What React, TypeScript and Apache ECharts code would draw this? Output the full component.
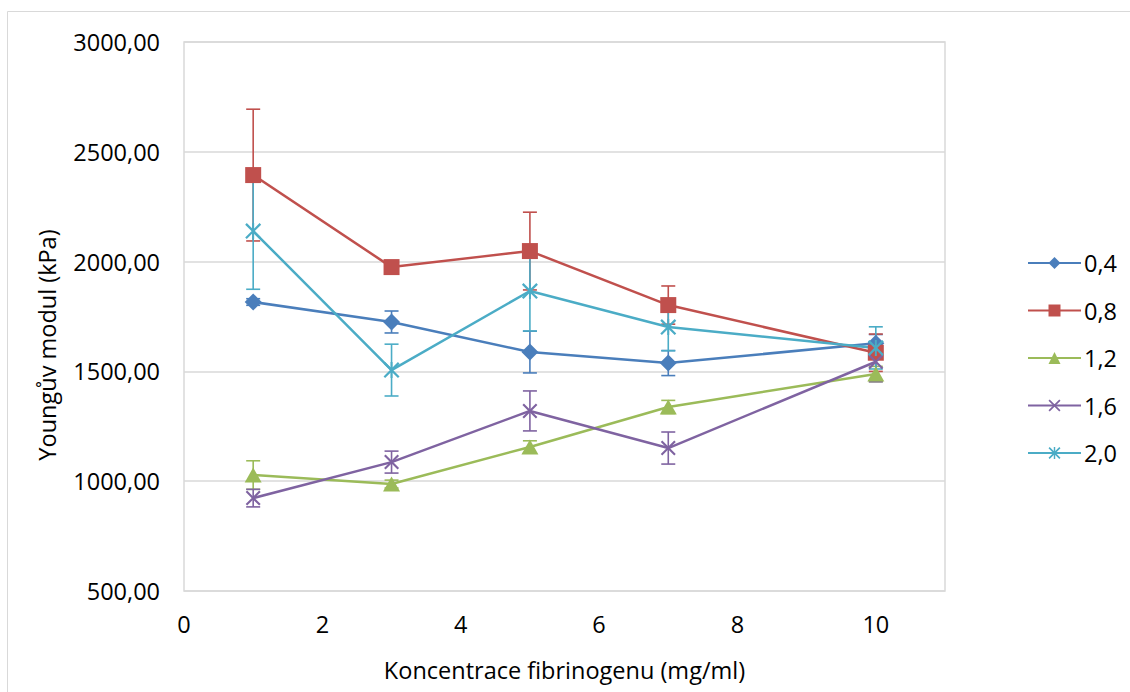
import React, { useEffect, useRef } from "react";
import * as echarts from "echarts";

const xValues = [1, 3, 5, 7, 10];
const seriesNames = ["0,4", "0,8", "1,2", "1,6", "2,0"];
const s04 = [1816, 1725, 1588, 1538, 1628];
const s08 = [2394, 1975, 2048, 1802, 1585];
const s12 = [1028, 987, 1156, 1338, 1488];
const s16 = [923, 1087, 1320, 1151, 1544];
const s20 = [2139, 1506, 1866, 1702, 1607];
const e04 = [15, 50, 95, 57, 40];
const e08 = [300, 25, 177, 87, 85];
const e12 = [65, 18, 28, 30, 35];
const e16 = [40, 50, 91, 73, 91];
const e20 = [265, 118, 182, 108, 96];
const yTicks = [500, 1000, 1500, 2000, 2500, 3000];
const xTicks = [0, 2, 4, 6, 8, 10];

const COLORS = ["#4a7ebb", "#c0504d", "#9bbb59", "#7f63a1", "#4bacc6"];
const FONT = "Open Sans";
const FS = 23.5;

const X_PATH = "path://M0,2 L2,0 L20,18 L18,20 Z M18,0 L20,2 L2,20 L0,18 Z";
const STAR_PATH =
  "path://M0,2 L2,0 L20,18 L18,20 Z M18,0 L20,2 L2,20 L0,18 Z M8.8,0 L11.2,0 L11.2,20 L8.8,20 Z";

export default function App() {
  const ref = useRef<HTMLDivElement>(null);
  useEffect(() => {
    if (!ref.current) return;
    const chart = echarts.init(ref.current, null, { renderer: "svg" });
    const values = [s04, s08, s12, s16, s20];
    const errs = [e04, e08, e12, e16, e20];
    const symbols = ["diamond", "rect", "triangle", X_PATH, STAR_PATH];
    const sizes = [[17, 17], 16, [17, 15], 15, 16];

    const errSeries = values.map((vals, si) => ({
      type: "custom",
      silent: true,
      z: 1,
      data: xValues.map((x, i) => [x, vals[i] - errs[si][i], vals[i] + errs[si][i]]),
      encode: { x: 0, y: [1, 2] },
      renderItem: (params: any, api: any) => {
        const x = api.value(0);
        const lo = api.value(1);
        const hi = api.value(2);
        const p1 = api.coord([x, hi]);
        const p2 = api.coord([x, lo]);
        const style = { stroke: COLORS[si], lineWidth: 1.6 };
        return {
          type: "group",
          children: [
            { type: "line", shape: { x1: p1[0], y1: p1[1], x2: p2[0], y2: p2[1] }, style },
            { type: "line", shape: { x1: p1[0] - 7, y1: p1[1], x2: p1[0] + 7, y2: p1[1] }, style },
            { type: "line", shape: { x1: p2[0] - 7, y1: p2[1], x2: p2[0] + 7, y2: p2[1] }, style },
          ],
        };
      },
    }));

    const lineSeries = values.map((vals, si) => ({
      type: "line",
      name: seriesNames[si],
      z: 2,
      data: xValues.map((x, i) => [x, vals[i]]),
      symbol: symbols[si],
      symbolSize: sizes[si],
      showAllSymbol: true,
      lineStyle: { color: COLORS[si], width: 2.5 },
      itemStyle: { color: COLORS[si], opacity: 1 },
      emphasis: { disabled: true },
    }));

    chart.setOption({
      animation: false,
      grid: {
        left: 184,
        top: 42,
        right: 185,
        bottom: 101,
        show: true,
        borderColor: "#d9d9d9",
        borderWidth: 1.5,
        backgroundColor: "transparent",
      },
      legend: {
        orient: "vertical",
        left: 1022,
        top: 246,
        itemWidth: 53,
        itemHeight: 15,
        itemGap: 23.5,
        data: seriesNames,
        textStyle: { fontFamily: FONT, fontSize: FS, color: "#000", padding: [0, 0, 0, -2] },
        selectedMode: false,
      },
      xAxis: {
        type: "value",
        min: 0,
        max: 11,
        interval: 2,
        name: "Koncentrace fibrinogenu (mg/ml)",
        nameLocation: "middle",
        nameGap: 67,
        nameTextStyle: { fontFamily: FONT, fontSize: FS, color: "#000" },
        axisLine: { show: false },
        axisTick: { show: false },
        splitLine: { show: false },
        axisLabel: {
          fontFamily: FONT,
          fontSize: FS,
          color: "#000",
          margin: 21,
          showMaxLabel: false,
          formatter: (v: number) => (xTicks.includes(v) ? String(v) : ""),
        },
      },
      yAxis: {
        type: "value",
        min: yTicks[0],
        max: yTicks[yTicks.length - 1],
        interval: 500,
        axisLine: { show: false },
        axisTick: { show: false },
        splitLine: { show: true, lineStyle: { color: "#d9d9d9", width: 1.5 } },
        axisLabel: {
          fontFamily: FONT,
          fontSize: FS,
          color: "#000",
          margin: 24,
          formatter: (v: number) => v.toFixed(2).replace(".", ","),
        },
      },
      graphic: [
        {
          type: "rect",
          shape: { x: 7.5, y: 11.5, width: 1300, height: 900 },
          style: { fill: "none", stroke: "#d9d9d9", lineWidth: 1 },
          silent: true,
        },
        {
          type: "text",
          x: 47,
          y: 345,
          rotation: Math.PI / 2,
          style: {
            text: "Youngův modul (kPa)",
            fontFamily: FONT,
            fontSize: FS,
            fill: "#000",
            align: "center",
            verticalAlign: "middle",
          },
        },
      ],
      series: [...errSeries, ...lineSeries],
    });
    return () => chart.dispose();
  }, []);
  return (
    <div
      ref={ref}
      style={{ position: "fixed", left: 0, top: 0, width: 1130, height: 692, background: "#fff" }}
    />
  );
}
